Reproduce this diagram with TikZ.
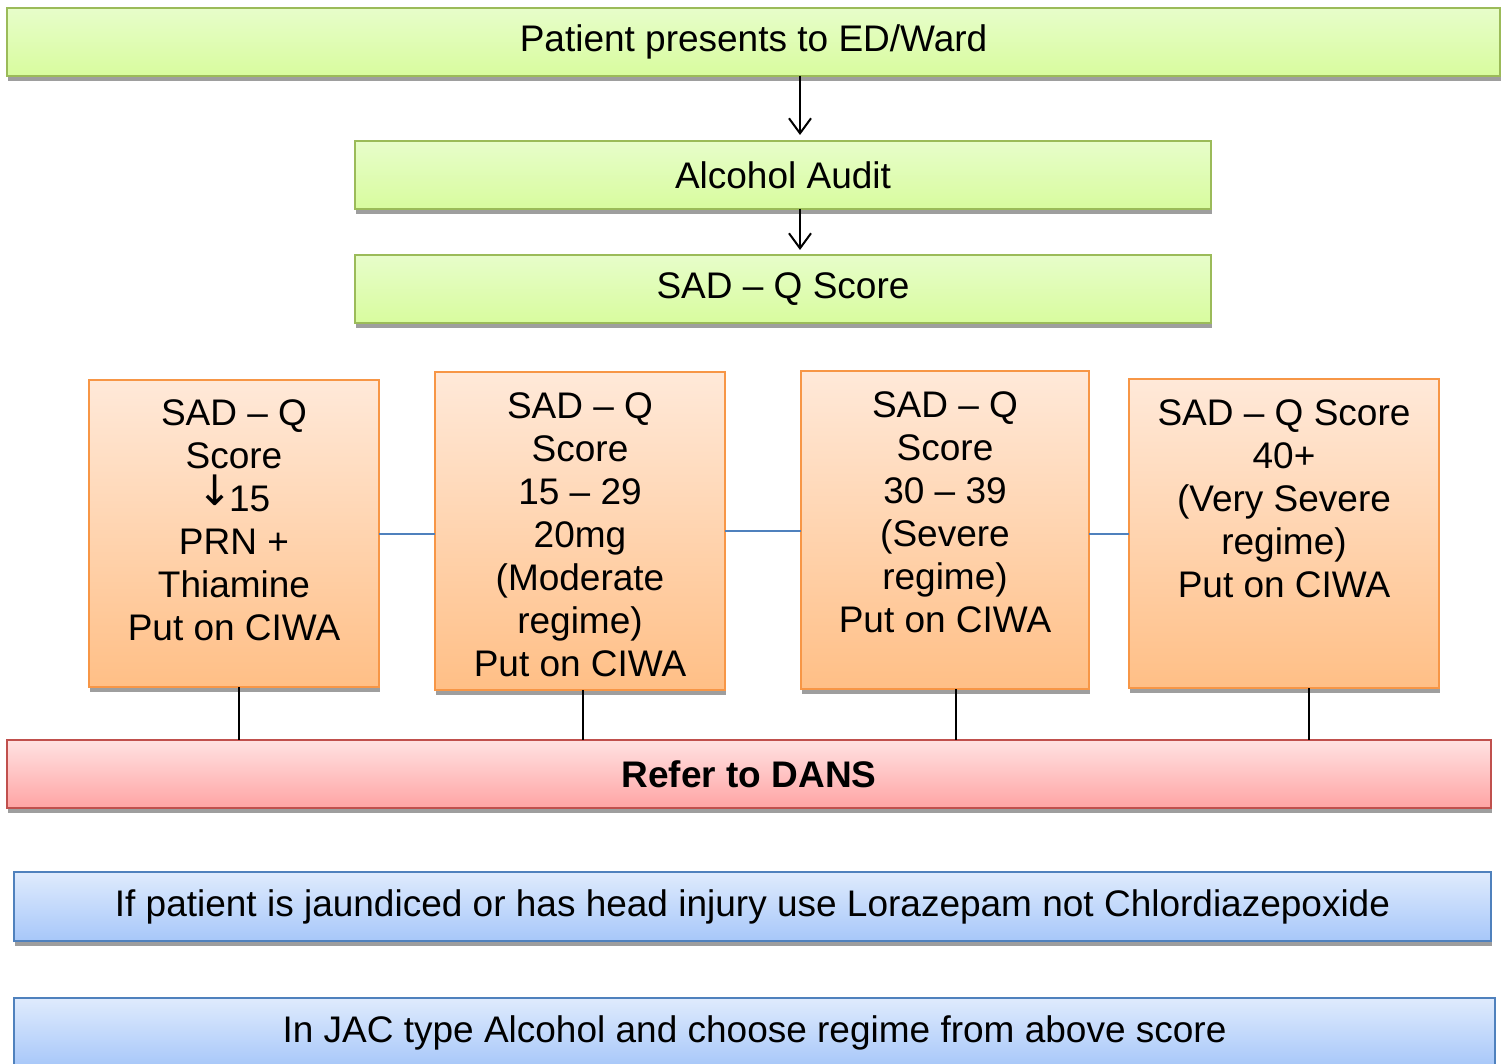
\documentclass[tikz,border=0pt]{standalone}
\usepackage{fontspec}
\setmainfont{Liberation Sans}
\newfontfamily\arrowfont{DejaVu Sans}
\usetikzlibrary{shadows,arrows.meta}
\definecolor{gtop}{HTML}{E7FDCA}
\definecolor{gbot}{HTML}{D8FC9E}
\definecolor{gbrd}{HTML}{9BBB59}
\definecolor{otop}{HTML}{FFE9D9}
\definecolor{obot}{HTML}{FFBF86}
\definecolor{obrd}{HTML}{F79646}
\definecolor{rtop}{HTML}{FFE2E2}
\definecolor{rbot}{HTML}{FFA4A4}
\definecolor{rbrd}{HTML}{C0504D}
\definecolor{btop}{HTML}{DFEBFD}
\definecolor{bbot}{HTML}{A7C7F9}
\definecolor{bbrd}{HTML}{4F81BD}
\definecolor{shd}{HTML}{9E9E9E}
\begin{document}
\begin{tikzpicture}[x=1pt,y=-1pt,
  every node/.style={font=\fontsize{37}{43}\selectfont, inner sep=0pt, outer sep=0pt},
  boxbase/.style={draw, line width=2pt, drop shadow={shadow xshift=1pt, shadow yshift=-5pt, fill=shd, opacity=1}},
  gbox/.style={boxbase, draw=gbrd, top color=gtop, bottom color=gbot},
  obox/.style={boxbase, draw=obrd, top color=otop, bottom color=obot},
  rbox/.style={boxbase, draw=rbrd, top color=rtop, bottom color=rbot},
  bbox/.style={boxbase, draw=bbrd, top color=btop, bottom color=bbot},
  txt/.style={align=center, anchor=north},
  arr/.style={-{Straight Barb[length=15pt,width=22pt]}, line width=2pt, black},
  blink/.style={line width=2pt, draw=bbrd},
  klink/.style={line width=2pt, black}
]
\useasboundingbox (0,0) rectangle (1507,1064);
\node[gbox, minimum width=1493pt, minimum height=68pt] (top) at (753.5,42) {Patient presents to ED/Ward};
\node[gbox, minimum width=856pt, minimum height=68pt] (audit) at (783,175) {Alcohol Audit};
\node[gbox, minimum width=856pt, minimum height=68pt] (sadq) at (783,289) {SAD -- Q Score};

\coordinate (ax) at (800,0);
\draw[arr, shorten >=6pt] (top.south -| ax) -- (audit.north -| ax);
\draw[arr, shorten >=5pt] (audit.south -| ax) -- (sadq.north -| ax);

\node[obox, minimum width=290pt, minimum height=307pt] (o1) at (234,533.5) {};
\node[obox, minimum width=290pt, minimum height=318pt] (o2) at (580,531) {};
\node[obox, minimum width=288pt, minimum height=318pt] (o3) at (945,530) {};
\node[obox, minimum width=310pt, minimum height=309pt] (o4) at (1284,533.5) {};

\node[txt] (t1) at (234,400) {SAD -- Q\\Score\\{\raisebox{6pt}{\arrowfont\fontsize{42}{42}\selectfont ↓}}\kern-4pt 15\hspace*{26pt}\\PRN +\\Thiamine\\Put on CIWA};
\node[txt] (t2) at (580,393) {SAD -- Q\\Score\\15 -- 29\\20mg\\(Moderate\\regime)\\Put on CIWA};
\node[txt] (t3) at (945,392) {SAD -- Q\\Score\\30 -- 39\\(Severe\\regime)\\Put on CIWA};
\node[txt] (t4) at (1284,400) {SAD -- Q Score\\40+\\(Very Severe\\regime)\\Put on CIWA};

\draw[blink] (o1.east) -- (o1.east -| o2.west);
\draw[blink] (o2.east) -- (o2.east -| o3.west);
\draw[blink] (o3.east |- o4.west) -- (o4.west);

\node[rbox, minimum width=1484pt, minimum height=68pt, font=\fontsize{37}{43}\selectfont\bfseries] (red) at (749,774) {Refer to DANS};

\coordinate (l1) at (239,0);
\coordinate (l2) at (583,0);
\coordinate (l3) at (956,0);
\coordinate (l4) at (1309,0);
\draw[klink] (o1.south -| l1) -- (red.north -| l1);
\draw[klink] (o2.south -| l2) -- (red.north -| l2);
\draw[klink] (o3.south -| l3) -- (red.north -| l3);
\draw[klink] (o4.south -| l4) -- (red.north -| l4);

\node[bbox, minimum width=1477pt, minimum height=69pt] (b1) at (752.5,906.5) {If patient is jaundiced or has head injury use Lorazepam not Chlordiazepoxide};
\node[bbox, minimum width=1481pt, minimum height=69pt] (b2) at (754.5,1032.5) {In JAC type Alcohol and choose regime from above score};
\end{tikzpicture}
\end{document}
